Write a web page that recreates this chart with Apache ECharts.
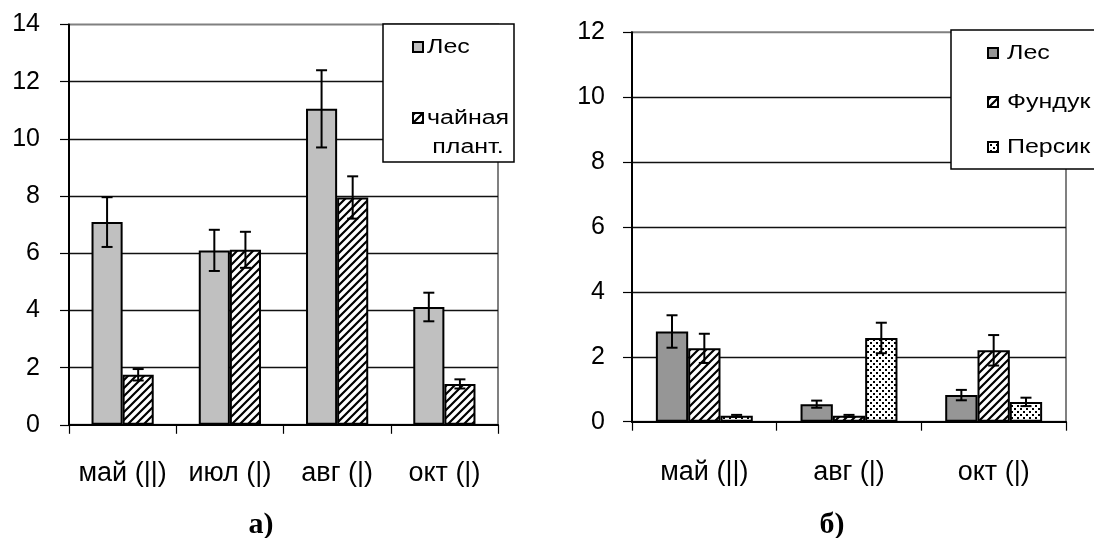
<!DOCTYPE html>
<html>
<head>
<meta charset="utf-8">
<script src="https://cdn.jsdelivr.net/npm/echarts@6/dist/echarts.min.js"></script>
<style>
html,body{margin:0;padding:0;background:#fff;}
#chart{width:1094px;height:538px;}
</style>
</head>
<body>
<div id="chart"></div>
<script>
// ---- Data: chart а) ----
const catsA = ['май (||)', 'июл (|)', 'авг (|)', 'окт (|)'];
const lesA = [7.09, 6.1, 11.05, 4.12];
const lesAErr = [0.87, 0.72, 1.35, 0.5];
const teaA = [1.75, 6.12, 7.95, 1.43];
const teaAErr = [0.2, 0.63, 0.74, 0.16];
const yTicksA = [0, 2, 4, 6, 8, 10, 12, 14];

// ---- Data: chart б) ----
const catsB = ['май (||)', 'авг (|)', 'окт (|)'];
const lesB = [2.78, 0.54, 0.82];
const lesBErr = [0.5, 0.11, 0.16];
const hazelB = [2.26, 0.18, 2.2];
const hazelBErr = [0.45, 0.03, 0.47];
const peachB = [0.18, 2.58, 0.61];
const peachBErr = [0.03, 0.47, 0.13];
const yTicksB = [0, 2, 4, 6, 8, 10, 12];

const namesA = ['Лес', 'чайная плант.'];
const namesB = ['Лес', 'Фундук', 'Персик'];

// ---- patterns ----
function hatch() {
  const c = document.createElement('canvas');
  c.width = 8; c.height = 8;
  const g = c.getContext('2d');
  g.fillStyle = '#fff'; g.fillRect(0, 0, 8, 8);
  g.strokeStyle = '#000'; g.lineWidth = 2.2;
  g.beginPath();
  g.moveTo(-1, 9); g.lineTo(9, -1);
  g.moveTo(-5, 5); g.lineTo(5, -5);
  g.moveTo(3, 13); g.lineTo(13, 3);
  g.stroke();
  return { image: c, repeat: 'repeat' };
}
function dots() {
  const c = document.createElement('canvas');
  c.width = 6; c.height = 6;
  const g = c.getContext('2d');
  g.fillStyle = '#fff'; g.fillRect(0, 0, 6, 6);
  g.fillStyle = '#000';
  g.fillRect(0, 0, 2, 2);
  g.fillRect(3, 3, 2, 2);
  return { image: c, repeat: 'repeat' };
}
const hatchFill = hatch();
const dotFill = dots();
const grayA = '#c0c0c0';
const grayB = '#969696';

const FAM = "'Liberation Sans', Arial, sans-serif";
const SERIF = "'Liberation Serif', 'Times New Roman', serif";

function errSeries(name, gridIdx, vals, errs, sIdx, n, gapFrac) {
  return {
    type: 'custom',
    name: name + ' err',
    xAxisIndex: gridIdx, yAxisIndex: gridIdx,
    z: 5,
    silent: true,
    encode: { x: 0, y: 1 },
    data: vals.map((v, i) => [i, v, errs[i]]),
    renderItem: function (params, api) {
      const ci = api.value(0), v = api.value(1), e = api.value(2);
      const catW = api.size([1, 0])[0];
      const bw = catW * (1 - gapFrac) / n;
      const c = api.coord([ci, v]);
      const x = c[0] - n * bw / 2 + bw * (sIdx + 0.5);
      const yt = api.coord([ci, v + e])[1];
      const yb = api.coord([ci, Math.max(v - e, 0)])[1];
      const cap = 5.5;
      const st = { stroke: '#000', lineWidth: 2 };
      return {
        type: 'group',
        children: [
          { type: 'line', shape: { x1: x, y1: yt, x2: x, y2: yb }, style: st },
          { type: 'line', shape: { x1: x - cap, y1: yt, x2: x + cap, y2: yt }, style: st },
          { type: 'line', shape: { x1: x - cap, y1: yb, x2: x + cap, y2: yb }, style: st }
        ]
      };
    }
  };
}

function barSeries(name, gridIdx, data, fill, gap) {
  return {
    type: 'bar', name: name,
    xAxisIndex: gridIdx, yAxisIndex: gridIdx,
    data: data,
    barGap: '0%', barCategoryGap: gap,
    itemStyle: { color: fill, borderColor: '#000', borderWidth: 2 },
    emphasis: { disabled: true }
  };
}

const gapA = 0.42, gapB = 0.33;

function xAxisCfg(gridIdx, cats, margin) {
  return {
    type: 'category', gridIndex: gridIdx, data: cats,
    axisLine: { show: true, lineStyle: { color: '#000', width: 2 } },
    axisTick: { show: true, length: 9, inside: false, lineStyle: { color: '#000', width: 1.2 } },
    axisLabel: { color: '#000', fontSize: 27, fontFamily: FAM, margin: margin, interval: 0, hideOverlap: false },
    splitLine: { show: false }
  };
}
function yAxisCfg(gridIdx, max, margin) {
  return {
    type: 'value', gridIndex: gridIdx, min: 0, max: max, interval: 2,
    axisLine: { show: true, lineStyle: { color: '#000', width: 2 } },
    axisTick: { show: true, length: 9, lineStyle: { color: '#000', width: 1.2 } },
    axisLabel: { color: '#000', fontSize: 25, fontFamily: FAM, margin: margin },
    splitLine: { show: true, showMinLine: false, showMaxLine: false, lineStyle: { color: '#111', width: 1.3 } }
  };
}

function legendGraphics(box, items) {
  const els = [{
    type: 'rect', z: 100,
    shape: { x: box.x, y: box.y, width: box.w, height: box.h },
    style: { fill: '#fff', stroke: '#000', lineWidth: 1.5 }
  }];
  items.forEach(it => {
    if (it.fill) {
      els.push({
        type: 'rect', z: 101,
        shape: { x: it.ix, y: it.cy - 5, width: 10, height: 10 },
        style: { fill: it.fill, stroke: '#000', lineWidth: 2 }
      });
    }
    els.push({
      type: 'text', z: 101,
      x: it.tx, y: it.cy, scaleX: 1.25,
      style: {
        text: it.text, fill: '#000',
        font: '20px ' + FAM,
        verticalAlign: 'middle', align: it.align || 'left'
      }
    });
  });
  return els;
}

const chart = echarts.init(document.getElementById('chart'), null, { renderer: 'canvas' });

const graphics = []
  .concat(legendGraphics({ x: 383, y: 24, w: 131, h: 138 }, [
    { ix: 413, cy: 47, tx: 427, text: namesA[0], fill: grayA },
    { ix: 413, cy: 118, tx: 427, text: 'чайная', fill: hatchFill },
    { ix: 413, cy: 147, tx: 468, text: 'плант.', fill: null, align: 'center' }
  ]))
  .concat(legendGraphics({ x: 951, y: 30, w: 160, h: 139 }, [
    { ix: 988, cy: 53, tx: 1007, text: namesB[0], fill: grayB },
    { ix: 988, cy: 102, tx: 1007, text: namesB[1], fill: hatchFill },
    { ix: 988, cy: 147, tx: 1007, text: namesB[2], fill: dotFill }
  ]));

graphics.push({
  type: 'text', x: 261, y: 525,
  style: { text: 'а)', fill: '#000', font: 'bold 30px ' + SERIF, align: 'center', verticalAlign: 'middle' }
});
graphics.push({
  type: 'text', x: 832, y: 525,
  style: { text: 'б)', fill: '#000', font: 'bold 30px ' + SERIF, align: 'center', verticalAlign: 'middle' }
});

const option = {
  animation: false,
  backgroundColor: '#fff',
  grid: [
    { left: 69, top: 24.5, width: 429, height: 400.3, show: true, borderColor: '#808080', borderWidth: 2, backgroundColor: 'transparent', containLabel: false },
    { left: 632, top: 32.3, width: 434, height: 389.4, show: true, borderColor: '#808080', borderWidth: 2, backgroundColor: 'transparent', containLabel: false }
  ],
  xAxis: [xAxisCfg(0, catsA, 35), xAxisCfg(1, catsB, 37)],
  yAxis: [yAxisCfg(0, 14, 29), yAxisCfg(1, 12, 27)],
  series: [
    barSeries(namesA[0], 0, lesA, grayA, (gapA * 100) + '%'),
    barSeries(namesA[1], 0, teaA, hatchFill, (gapA * 100) + '%'),
    errSeries(namesA[0], 0, lesA, lesAErr, 0, 2, gapA),
    errSeries(namesA[1], 0, teaA, teaAErr, 1, 2, gapA),
    barSeries(namesB[0], 1, lesB, grayB, (gapB * 100) + '%'),
    barSeries(namesB[1], 1, hazelB, hatchFill, (gapB * 100) + '%'),
    barSeries(namesB[2], 1, peachB, dotFill, (gapB * 100) + '%'),
    errSeries(namesB[0], 1, lesB, lesBErr, 0, 3, gapB),
    errSeries(namesB[1], 1, hazelB, hazelBErr, 1, 3, gapB),
    errSeries(namesB[2], 1, peachB, peachBErr, 2, 3, gapB)
  ],
  graphic: graphics
};
chart.setOption(option);
</script>
</body>
</html>
